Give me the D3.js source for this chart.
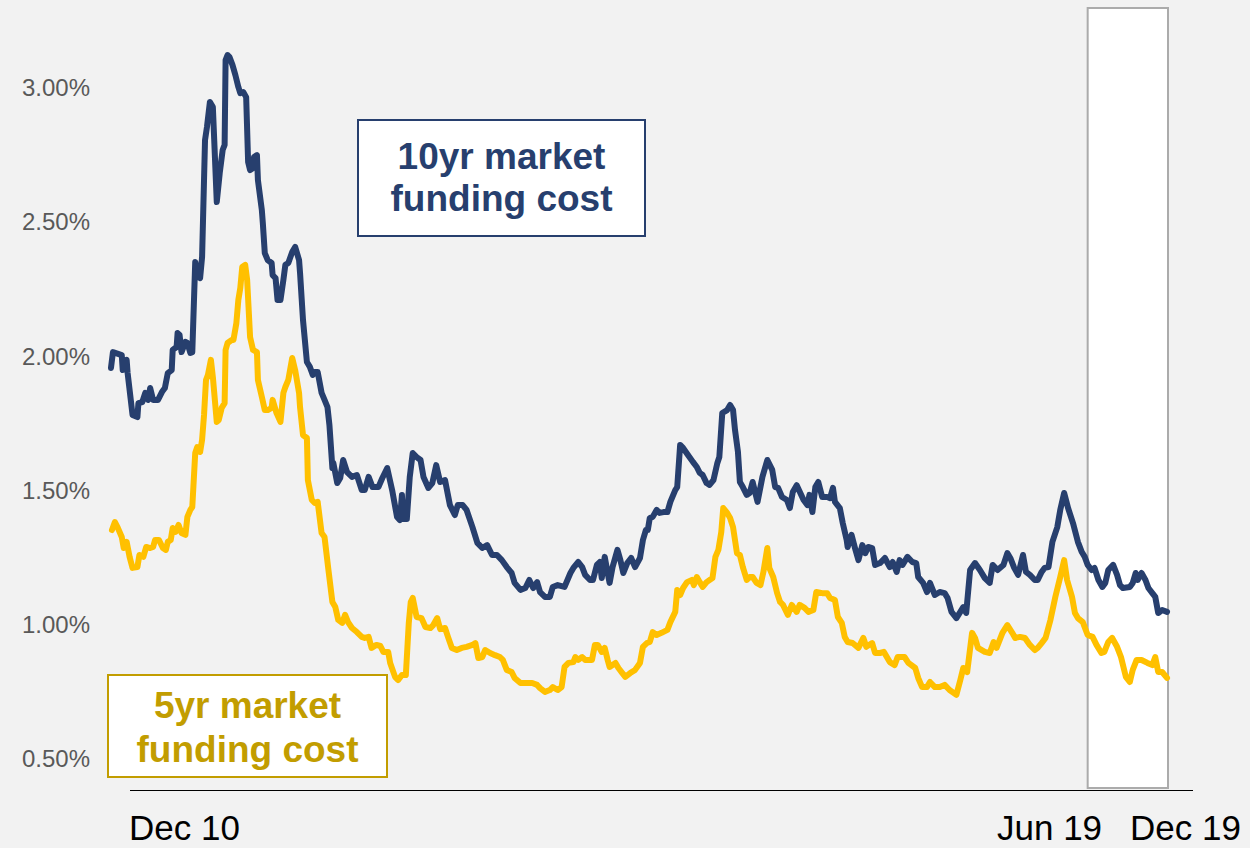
<!DOCTYPE html>
<html>
<head>
<meta charset="utf-8">
<script src="https://cdn.jsdelivr.net/npm/d3@7"></script>
<style>
  html, body { margin: 0; padding: 0; background: #f2f2f2; }
  svg { display: block; font-family: "Liberation Sans", Arial, sans-serif; }
</style>
</head>
<body>
<svg width="1250" height="848"></svg>
<script>
// months since Dec 2010, funding cost in %
var tenYr = [[0.1,1.957],[0.3,2.016],[1.2,2.005],[1.3,1.949],[1.7,1.987],[1.8,1.938],[2.3,1.782],[2.8,1.774],[2.9,1.826],[3.3,1.830],[3.6,1.864],[3.9,1.838],[4.1,1.882],[4.4,1.838],[4.9,1.838],[5.3,1.867],[5.6,1.882],[5.9,1.938],[6.3,1.949],[6.4,2.024],[6.8,2.035],[6.9,2.087],[7.1,2.080],[7.3,2.016],[7.7,2.054],[7.9,2.050],[8.2,2.013],[8.4,2.016],[8.7,2.352],[9.0,2.296],[9.2,2.292],[9.4,2.370],[9.7,2.806],[9.9,2.855],[10.2,2.948],[10.5,2.929],[10.9,2.575],[11.2,2.683],[11.5,2.769],[11.7,2.788],[11.8,3.104],[12.0,3.123],[12.2,3.115],[12.5,3.086],[12.8,3.048],[13.1,3.004],[13.3,2.981],[13.6,2.985],[13.9,2.966],[14.1,2.724],[14.3,2.694],[14.6,2.702],[14.7,2.743],[15.0,2.750],[15.1,2.657],[15.5,2.545],[15.6,2.497],[15.8,2.385],[16.1,2.359],[16.5,2.348],[16.6,2.303],[16.9,2.292],[17.1,2.210],[17.4,2.210],[17.7,2.285],[17.9,2.341],[18.2,2.348],[18.6,2.389],[18.9,2.408],[19.3,2.359],[19.4,2.311],[19.7,2.136],[20.1,1.979],[20.4,1.961],[20.7,1.931],[20.9,1.942],[21.2,1.942],[21.6,1.864],[21.9,1.838],[22.2,1.811],[22.4,1.744],[22.7,1.584],[22.8,1.603],[23.2,1.528],[23.5,1.547],[23.8,1.614],[24.2,1.569],[24.7,1.551],[25.2,1.558],[25.7,1.502],[26.0,1.502],[26.4,1.551],[26.8,1.513],[27.4,1.513],[27.8,1.547],[28.3,1.584],[28.8,1.502],[29.3,1.402],[29.6,1.390],[29.8,1.484],[29.9,1.394],[30.3,1.394],[30.6,1.551],[30.9,1.640],[31.3,1.625],[31.7,1.614],[32.0,1.551],[32.5,1.510],[32.9,1.528],[33.3,1.595],[33.7,1.532],[34.2,1.539],[34.7,1.446],[35.2,1.409],[35.5,1.446],[36.0,1.446],[36.4,1.428],[37.0,1.364],[37.5,1.305],[38.0,1.286],[38.5,1.297],[39.0,1.260],[39.5,1.260],[40.0,1.241],[40.5,1.215],[41.0,1.193],[41.3,1.156],[41.9,1.130],[42.4,1.137],[42.8,1.167],[43.2,1.137],[43.6,1.159],[43.9,1.122],[44.4,1.104],[44.9,1.104],[45.2,1.141],[45.7,1.148],[46.4,1.141],[47.0,1.193],[47.3,1.212],[47.8,1.234],[48.2,1.215],[48.5,1.186],[49.0,1.167],[49.3,1.167],[49.7,1.223],[50.0,1.234],[50.2,1.174],[50.5,1.253],[50.8,1.193],[51.0,1.156],[51.3,1.215],[51.8,1.279],[52.1,1.241],[52.4,1.193],[52.8,1.230],[53.2,1.249],[53.6,1.215],[54.1,1.249],[54.4,1.316],[54.7,1.353],[54.9,1.353],[55.1,1.398],[55.4,1.402],[55.8,1.428],[56.1,1.417],[56.5,1.420],[56.9,1.420],[57.2,1.458],[57.7,1.502],[57.9,1.513],[58.2,1.670],[58.5,1.659],[59.0,1.633],[59.5,1.607],[59.9,1.588],[60.2,1.566],[60.5,1.558],[60.9,1.528],[61.2,1.521],[61.6,1.539],[62.0,1.603],[62.2,1.625],[62.5,1.789],[63.0,1.800],[63.3,1.819],[63.6,1.800],[63.8,1.726],[64.1,1.644],[64.3,1.532],[64.6,1.513],[65.0,1.484],[65.3,1.491],[65.6,1.532],[65.8,1.502],[66.1,1.458],[66.6,1.551],[67.1,1.614],[67.6,1.577],[67.9,1.513],[68.2,1.510],[68.6,1.476],[69.1,1.465],[69.4,1.435],[69.7,1.495],[70.1,1.520],[70.8,1.465],[71.2,1.446],[71.4,1.484],[71.7,1.420],[72.0,1.513],[72.3,1.532],[72.7,1.476],[73.2,1.476],[73.5,1.472],[73.8,1.510],[74.0,1.458],[74.5,1.435],[74.8,1.379],[75.2,1.316],[75.3,1.290],[75.7,1.335],[76.1,1.279],[76.4,1.241],[76.8,1.297],[77.1,1.267],[77.4,1.290],[77.8,1.286],[78.1,1.223],[78.6,1.230],[79.1,1.249],[79.6,1.215],[79.9,1.234],[80.3,1.197],[80.6,1.241],[80.9,1.223],[81.4,1.253],[81.9,1.234],[82.3,1.230],[82.5,1.178],[83.0,1.156],[83.4,1.122],[83.7,1.156],[84.2,1.111],[84.7,1.122],[85.2,1.118],[85.5,1.100],[85.9,1.048],[86.4,1.025],[86.8,1.048],[87.1,1.066],[87.4,1.044],[87.8,1.204],[88.3,1.230],[88.8,1.204],[89.3,1.174],[89.8,1.156],[90.1,1.223],[90.6,1.204],[91.2,1.223],[91.6,1.267],[91.9,1.249],[92.3,1.212],[92.7,1.186],[93.2,1.260],[93.5,1.197],[93.9,1.186],[94.4,1.167],[94.7,1.167],[95.1,1.197],[95.4,1.212],[95.8,1.215],[96.2,1.309],[96.7,1.364],[97.0,1.428],[97.4,1.491],[97.8,1.435],[98.3,1.379],[98.8,1.309],[99.2,1.271],[99.5,1.253],[99.8,1.223],[100.2,1.204],[100.5,1.212],[100.9,1.167],[101.3,1.141],[101.6,1.156],[101.9,1.204],[102.4,1.223],[102.8,1.186],[103.1,1.148],[103.4,1.137],[104.1,1.141],[104.4,1.156],[104.7,1.193],[104.9,1.167],[105.3,1.193],[105.7,1.167],[106.0,1.137],[106.4,1.118],[106.7,1.104],[107.0,1.044],[107.4,1.055],[107.9,1.048]];

var fiveYr = [[0.2,1.353],[0.5,1.383],[0.8,1.361],[1.2,1.327],[1.4,1.286],[1.7,1.309],[2.0,1.253],[2.3,1.212],[2.8,1.215],[3.0,1.260],[3.4,1.253],[3.7,1.290],[4.1,1.286],[4.4,1.290],[4.6,1.316],[5.0,1.316],[5.4,1.286],[5.7,1.279],[5.9,1.309],[6.2,1.316],[6.4,1.361],[6.7,1.346],[7.0,1.372],[7.3,1.342],[7.7,1.335],[7.9,1.402],[8.2,1.428],[8.4,1.439],[8.7,1.640],[8.9,1.662],[9.2,1.644],[9.4,1.689],[9.6,1.782],[9.8,1.912],[10.0,1.931],[10.3,1.987],[10.5,1.923],[10.9,1.756],[11.1,1.763],[11.4,1.808],[11.7,1.826],[11.8,2.024],[12.0,2.050],[12.4,2.061],[12.6,2.061],[12.9,2.124],[13.1,2.210],[13.3,2.255],[13.5,2.333],[13.8,2.341],[14.0,2.285],[14.3,2.072],[14.6,2.024],[15.0,2.016],[15.1,1.912],[15.5,1.849],[15.8,1.800],[16.1,1.800],[16.5,1.808],[16.6,1.838],[17.0,1.789],[17.4,1.756],[17.7,1.864],[17.9,1.886],[18.2,1.912],[18.6,1.994],[18.9,1.949],[19.3,1.864],[19.4,1.811],[19.7,1.707],[20.1,1.696],[20.2,1.539],[20.6,1.465],[20.9,1.454],[21.2,1.458],[21.6,1.342],[21.9,1.327],[22.3,1.204],[22.7,1.085],[23.0,1.066],[23.3,1.018],[23.7,1.007],[24.0,1.037],[24.3,1.010],[24.7,0.988],[25.2,0.973],[25.7,0.955],[26.0,0.951],[26.4,0.955],[26.7,0.914],[27.2,0.925],[27.6,0.921],[27.9,0.899],[28.4,0.899],[28.6,0.858],[29.1,0.806],[29.4,0.794],[29.8,0.813],[30.2,0.813],[30.5,1.007],[30.7,1.085],[30.9,1.100],[31.3,1.029],[31.8,1.025],[32.2,0.992],[32.7,0.988],[33.0,0.999],[33.4,1.025],[33.7,0.984],[34.2,0.988],[34.5,0.955],[34.9,0.914],[35.4,0.906],[35.9,0.914],[36.4,0.918],[37.0,0.925],[37.3,0.932],[37.6,0.876],[38.0,0.880],[38.3,0.906],[38.8,0.895],[39.3,0.887],[39.8,0.880],[40.1,0.869],[40.5,0.832],[41.0,0.824],[41.3,0.802],[41.9,0.783],[42.6,0.783],[43.1,0.783],[43.6,0.776],[43.9,0.764],[44.4,0.750],[44.9,0.757],[45.2,0.768],[45.7,0.757],[46.1,0.768],[46.4,0.843],[46.8,0.858],[47.3,0.861],[47.5,0.880],[47.8,0.869],[48.2,0.880],[48.5,0.869],[49.2,0.869],[49.5,0.925],[49.8,0.925],[50.2,0.899],[50.5,0.914],[50.8,0.869],[51.0,0.843],[51.6,0.858],[51.9,0.839],[52.3,0.820],[52.6,0.806],[53.1,0.820],[53.6,0.832],[54.1,0.858],[54.4,0.918],[54.8,0.932],[55.1,0.936],[55.4,0.973],[55.8,0.962],[56.3,0.970],[56.9,0.981],[57.2,1.010],[57.7,1.048],[57.9,1.130],[58.2,1.111],[58.5,1.137],[58.9,1.159],[59.4,1.167],[59.6,1.148],[59.9,1.178],[60.2,1.159],[60.5,1.141],[60.9,1.159],[61.5,1.174],[61.8,1.253],[62.1,1.279],[62.4,1.346],[62.6,1.435],[63.0,1.417],[63.3,1.398],[63.6,1.364],[64.0,1.267],[64.3,1.260],[64.6,1.215],[65.0,1.167],[65.3,1.178],[65.6,1.178],[66.0,1.156],[66.4,1.148],[66.7,1.197],[67.1,1.286],[67.3,1.212],[67.7,1.178],[68.1,1.118],[68.4,1.085],[68.7,1.074],[69.2,1.037],[69.6,1.074],[70.1,1.048],[70.4,1.074],[70.9,1.063],[71.3,1.048],[71.8,1.055],[72.1,1.122],[72.7,1.118],[73.2,1.118],[73.5,1.100],[74.0,1.092],[74.3,1.029],[74.7,1.007],[75.0,0.955],[75.3,0.936],[75.8,0.932],[76.4,0.914],[76.9,0.951],[77.2,0.918],[77.8,0.932],[78.1,0.895],[78.6,0.895],[79.0,0.899],[79.6,0.861],[80.1,0.850],[80.4,0.880],[81.1,0.880],[81.5,0.858],[82.2,0.839],[82.5,0.802],[82.9,0.768],[83.4,0.768],[83.7,0.787],[84.2,0.768],[84.7,0.768],[85.2,0.776],[85.7,0.757],[86.4,0.739],[86.8,0.794],[87.1,0.839],[87.5,0.824],[88.0,0.970],[88.3,0.951],[88.6,0.914],[89.3,0.899],[89.8,0.895],[90.2,0.936],[90.5,0.914],[91.1,0.970],[91.6,0.999],[92.1,0.970],[92.4,0.951],[92.9,0.955],[93.4,0.951],[93.9,0.925],[94.4,0.906],[94.7,0.914],[95.1,0.932],[95.5,0.951],[96.0,1.018],[96.5,1.104],[97.0,1.178],[97.4,1.241],[97.7,1.167],[98.2,1.104],[98.5,1.044],[98.8,1.025],[99.3,1.010],[99.8,0.962],[100.3,0.955],[100.7,0.925],[101.2,0.895],[101.5,0.899],[101.9,0.936],[102.3,0.951],[102.8,0.918],[103.2,0.880],[103.7,0.806],[104.1,0.787],[104.4,0.832],[104.8,0.869],[105.3,0.869],[105.9,0.858],[106.4,0.850],[106.7,0.880],[107.0,0.824],[107.4,0.824],[107.9,0.802]];

var yTicks = [0.5, 1.0, 1.5, 2.0, 2.5, 3.0];
var xLabels = ['Dec 10', 'Jun 19', 'Dec 19'];
var highlight = [99.8, 108]; // shaded recent period

var svg = d3.select('svg');

var x = d3.scaleLinear().domain([0, 108]).range([110, 1168]);
var y = d3.scaleLinear().domain([0.5, 3.0]).range([759, 88]);

// highlight box
svg.append('rect')
    .attr('x', x(highlight[0]))
    .attr('y', 8)
    .attr('width', x(highlight[1]) - x(highlight[0]))
    .attr('height', 780)
    .style('fill', 'white')
    .style('stroke', '#ababab')
    .style('stroke-width', 2);

// y axis labels
var yAxis = d3.axisLeft(y)
    .tickValues(yTicks)
    .tickSize(0)
    .tickPadding(0)
    .tickFormat(function(d){ return d3.format('.2f')(d) + '%'; });

var gy = svg.append('g')
    .attr('transform', 'translate(90,0)')
    .call(yAxis);
gy.select('.domain').remove();
gy.selectAll('text')
    .style('font-size', '24px')
    .style('font-family', '"Liberation Sans", Arial, sans-serif')
    .style('fill', '#595959');

// lines
var line = d3.line()
    .x(function(d){ return x(d[0]); })
    .y(function(d){ return y(d[1]); });

svg.append('path')
    .datum(fiveYr)
    .attr('d', line)
    .style('fill', 'none')
    .style('stroke', '#ffc000')
    .style('stroke-width', 6)
    .style('stroke-linejoin', 'round')
    .style('stroke-linecap', 'round');

svg.append('path')
    .datum(tenYr)
    .attr('d', line)
    .style('fill', 'none')
    .style('stroke', '#273f6e')
    .style('stroke-width', 6)
    .style('stroke-linejoin', 'round')
    .style('stroke-linecap', 'round');

// x axis line
svg.append('line')
    .attr('x1', 130)
    .attr('x2', 1193)
    .attr('y1', 790.5)
    .attr('y2', 790.5)
    .style('stroke', 'black')
    .style('stroke-width', 1);

// x labels
var xLabelPos = [129, 997, 1130];
svg.selectAll('.xlab')
    .data(xLabels)
    .enter()
    .append('text')
    .attr('class', 'xlab')
    .attr('x', function(d, i){ return xLabelPos[i]; })
    .attr('y', 840)
    .style('font-size', '35px')
    .style('fill', 'black')
    .text(function(d){ return d; });

// annotation boxes
function labelBox(x0, y0, w, h, color, lines, base1, base2) {
    svg.append('rect')
        .attr('x', x0)
        .attr('y', y0)
        .attr('width', w)
        .attr('height', h)
        .style('fill', 'white')
        .style('stroke', color)
        .style('stroke-width', 2);
    var cx = x0 + w / 2;
    svg.append('text')
        .attr('x', cx).attr('y', base1)
        .attr('text-anchor', 'middle')
        .style('font-size', '37px')
        .style('font-weight', 'bold')
        .style('fill', color)
        .text(lines[0]);
    svg.append('text')
        .attr('x', cx).attr('y', base2)
        .attr('text-anchor', 'middle')
        .style('font-size', '37px')
        .style('font-weight', 'bold')
        .style('fill', color)
        .text(lines[1]);
}

labelBox(358, 120, 287, 116, '#273f6e', ['10yr market', 'funding cost'], 169, 211);
labelBox(108, 675, 279, 102, '#c29d00', ['5yr market', 'funding cost'], 718, 762);
</script>
</body>
</html>
